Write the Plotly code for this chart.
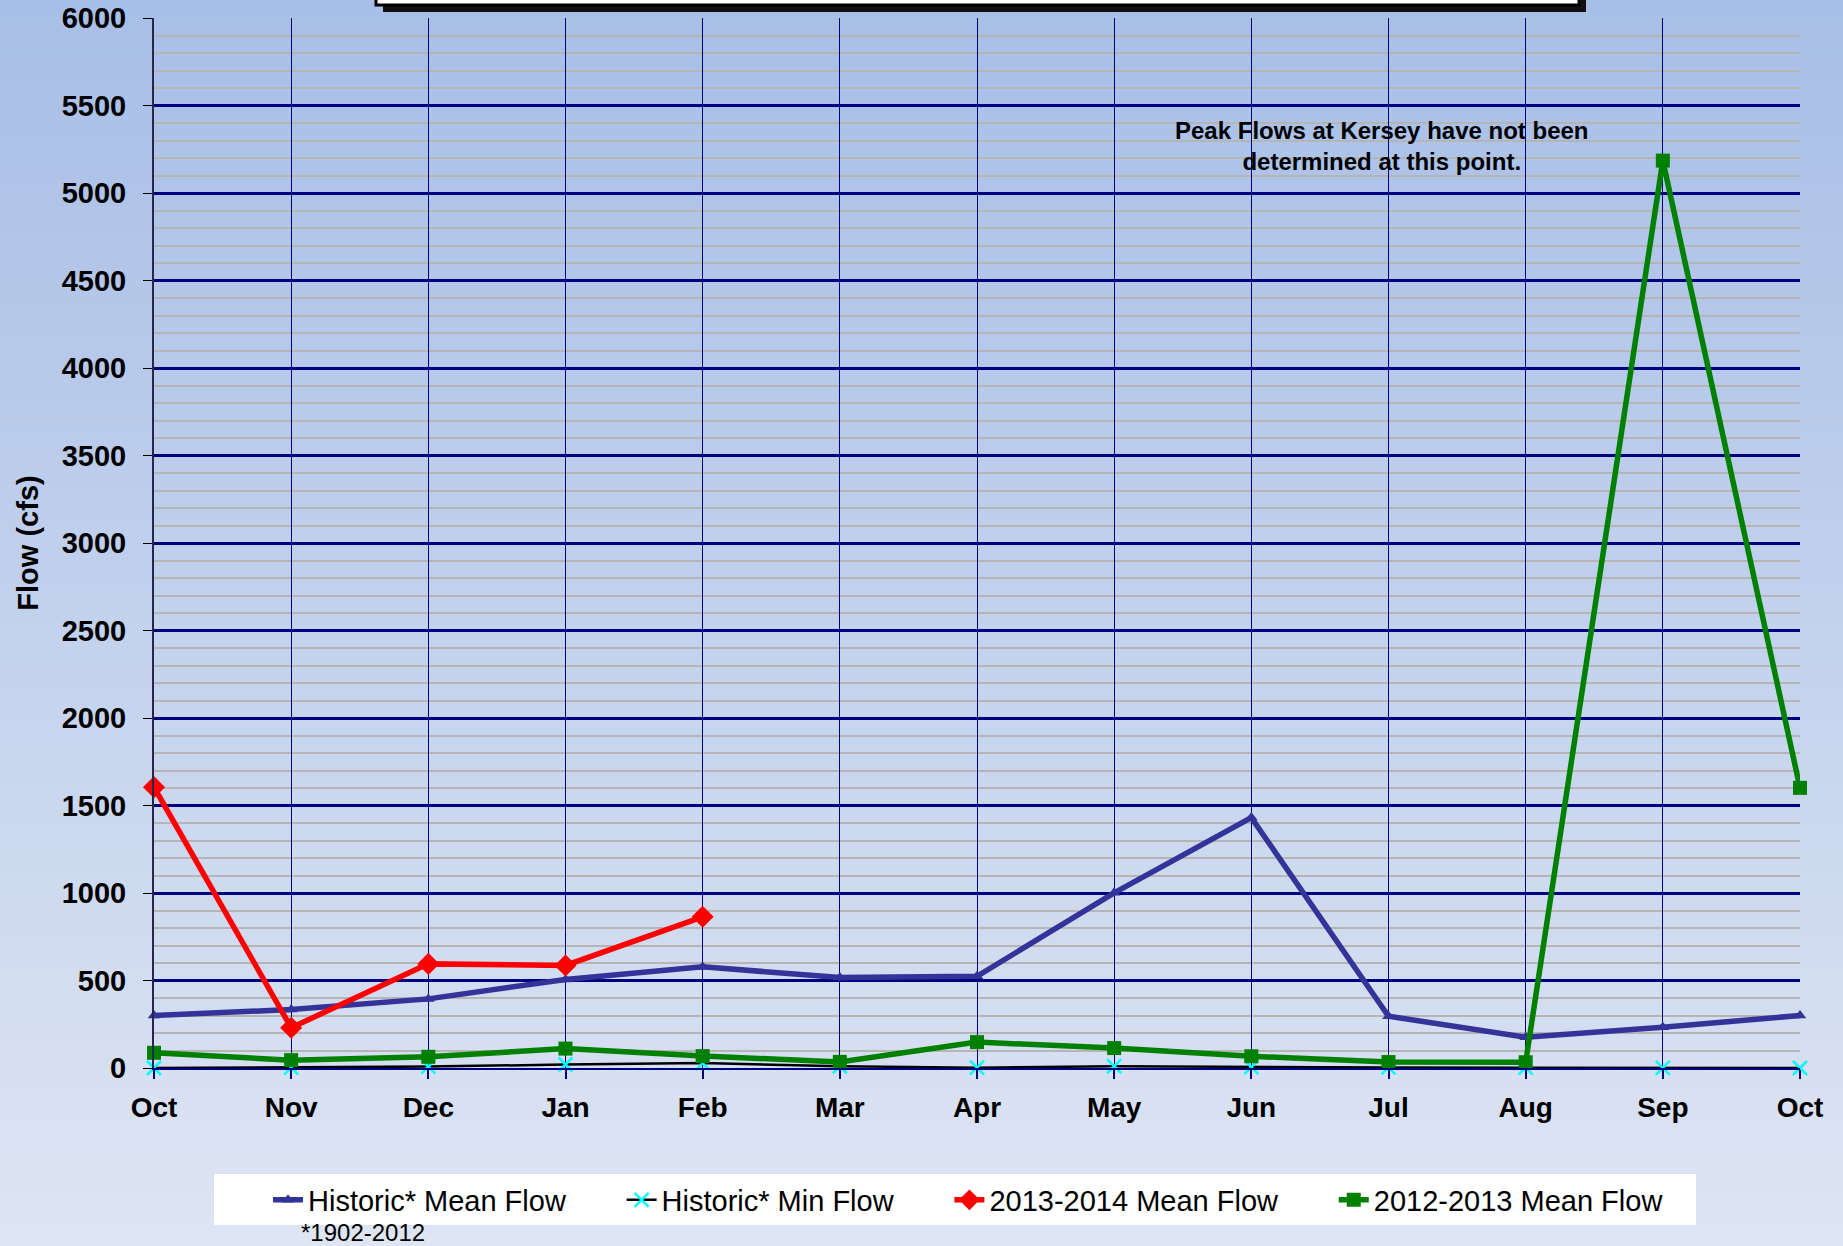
import plotly.graph_objects as go

# ---------------- data ----------------
months = ["Oct", "Nov", "Dec", "Jan", "Feb", "Mar", "Apr", "May", "Jun", "Jul", "Aug", "Sep", "Oct"]
hist_mean = [300, 334, 395, 506, 578, 517, 524, 1001, 1431, 296, 176, 233, 300]
hist_min = [0, 2, 8, 20, 28, 10, 2, 10, 5, 3, 2, 1, 0]
flow_2013_2014 = [1605, 230, 595, 586, 864]
flow_2012_2013 = [87, 45, 64, 111, 68, 35, 148, 114, 67, 34, 33, 5185, 1601]
y_ticks = [0, 500, 1000, 1500, 2000, 2500, 3000, 3500, 4000, 4500, 5000, 5500, 6000]
series_names = ["Historic* Mean Flow", "Historic* Min Flow", "2013-2014 Mean Flow", "2012-2013 Mean Flow"]
note_text = "Peak Flows at Kersey have not been<br>determined at this point."
footnote = "*1902-2012"

# ---------------- layout geometry ----------------
W, H = 1843, 1246
L, R, T, B = 154, 43, 18, 178
PW, PH = W - L - R, H - T - B


def xp(px):
    return (px - L) / PW


def yp(py):
    return (H - B - py) / PH


FONT = "Arial, Liberation Sans, sans-serif"
xpos = list(range(len(months)))
pad = "\u00a0" * 6 + "\u200a"

fig = go.Figure()
fig.add_trace(go.Scatter(
    x=xpos, y=hist_mean, name=series_names[0] + pad, mode="lines+markers", cliponaxis=False,
    line=dict(color="#333399", width=5.5),
    marker=dict(symbol="triangle-up", size=11, color="#333399")))
fig.add_trace(go.Scatter(
    x=xpos, y=hist_min, name=series_names[1] + pad, mode="lines+markers", cliponaxis=False,
    line=dict(color="#000000", width=2.5),
    marker=dict(symbol="x-thin", size=14, color="#00ffff", line=dict(color="#00ffff", width=2.5))))
fig.add_trace(go.Scatter(
    x=xpos[:len(flow_2013_2014)], y=flow_2013_2014, name=series_names[2] + pad, mode="lines+markers",
    cliponaxis=False,
    line=dict(color="#ff0000", width=5.5),
    marker=dict(symbol="diamond", size=17, color="#ff0000")))
fig.add_trace(go.Scatter(
    x=xpos, y=flow_2012_2013, name=series_names[3], mode="lines+markers", cliponaxis=False,
    line=dict(color="#008000", width=5.5),
    marker=dict(symbol="square", size=14, color="#008000")))

# ---------------- background gradient ----------------
shapes = []
top_c = (167, 190, 230)
bot_c = (222, 229, 243)
nb = 90
for i in range(nb):
    f = (i + 0.5) / nb
    c = tuple(int(round(top_c[k] + (bot_c[k] - top_c[k]) * f)) for k in range(3))
    y0 = i * H / nb
    y1 = (i + 1) * H / nb + 1
    shapes.append(dict(type="rect", xref="paper", yref="paper", layer="below",
                       x0=xp(-5), x1=xp(W + 5), y0=yp(y1), y1=yp(y0),
                       fillcolor="rgb(%d,%d,%d)" % c, line=dict(width=0)))

# legend white box
shapes.append(dict(type="rect", xref="paper", yref="paper", layer="below",
                   x0=xp(214), x1=xp(1696), y0=yp(1225), y1=yp(1174),
                   fillcolor="white", line=dict(width=0)))
# title box (cut off at top) with shadow
shapes.append(dict(type="rect", xref="paper", yref="paper", layer="above",
                   x0=xp(383), x1=xp(1586), y0=yp(12), y1=yp(-20),
                   fillcolor="#111111", line=dict(width=0)))
shapes.append(dict(type="rect", xref="paper", yref="paper", layer="above",
                   x0=xp(376), x1=xp(1579), y0=yp(5), y1=yp(-20),
                   fillcolor="white", line=dict(color="black", width=3)))

fig.update_layout(
    width=W, height=H,
    margin=dict(l=L, r=R, t=T, b=B, autoexpand=False),
    paper_bgcolor="rgba(0,0,0,0)",
    plot_bgcolor="rgba(0,0,0,0)",
    font=dict(family=FONT, color="black"),
    shapes=shapes,
    showlegend=True,
    legend=dict(orientation="h", x=xp(268), xanchor="left", y=yp(1200), yanchor="middle",
                bgcolor="rgba(0,0,0,0)", font=dict(family=FONT, size=29, color="black"),
                itemwidth=30, tracegroupgap=0),
    xaxis=dict(range=[0, len(months) - 1], tickmode="array", tickvals=xpos, ticktext=months,
               showgrid=True, gridcolor="#000080", gridwidth=1,
               showline=True, linecolor="#000080", linewidth=2,
               ticks="outside", ticklen=9, tickcolor="#000080", tickwidth=2,
               tickfont=dict(family=FONT, size=28, weight="bold", color="black"),
               ticklabelstandoff=4, zeroline=False, fixedrange=True),
    yaxis=dict(range=[0, 6000], tickmode="array", tickvals=y_ticks,
               showgrid=True, gridcolor="#000080", gridwidth=2.5,
               minor=dict(dtick=100, showgrid=True, gridcolor="#b5b5b5", gridwidth=2, ticks=""),
               showline=True, linecolor="#26264f", linewidth=2,
               ticks="outside", ticklen=9, tickcolor="black", tickwidth=1,
               tickfont=dict(family=FONT, size=29, weight="bold", color="black"),
               ticklabelstandoff=11, zeroline=False,
               title=dict(text="Flow (cfs)", font=dict(family=FONT, size=29, weight="bold", color="black"),
                          standoff=15),
               fixedrange=True),
    annotations=[
        dict(text="<b>" + note_text + "</b>", xref="paper", yref="paper",
             x=xp(1382), y=yp(146), xanchor="center", yanchor="middle", align="center",
             showarrow=False, font=dict(family=FONT, size=24, color="black")),
        dict(text=footnote, xref="paper", yref="paper", x=xp(299), y=yp(1233),
             xanchor="left", yanchor="middle", showarrow=False,
             font=dict(family=FONT, size=24, color="black")),
    ],
)

fig.write_html("out.html", config={"displayModeBar": False},
               post_script="document.body.style.margin='0';document.body.style.overflow='hidden';")
